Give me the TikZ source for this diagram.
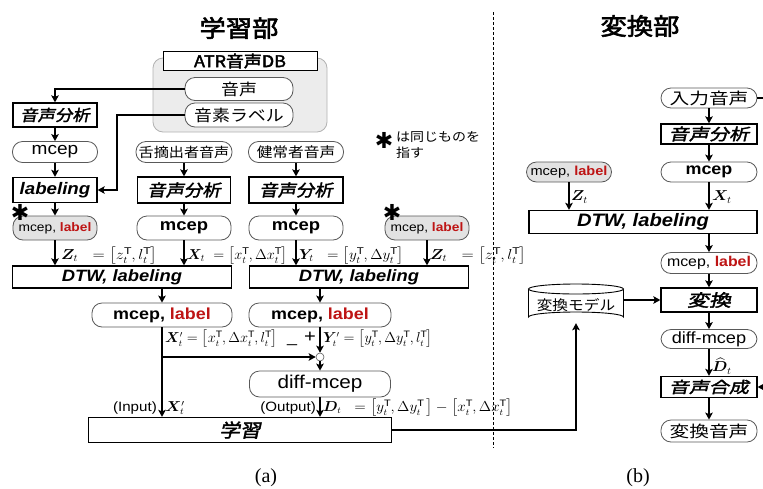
\documentclass[tikz,border=0pt]{standalone}
\usepackage{amsmath}
\usepackage{bm}
\usepackage{graphicx}
\usepackage{fontspec}
\setmainfont{Liberation Sans}[FakeStretch=1.12]
\newfontfamily\jp{Noto Sans CJK JP}[FakeStretch=1.12]
\newfontfamily\jpb{Noto Sans CJK JP}[FakeBold=2.5,FakeStretch=1.12]
\newfontfamily\jpbi{Noto Sans CJK JP}[FakeBold=2,FakeSlant=0.2,FakeStretch=1.12]
\newfontfamily\dvs{DejaVu Sans}
\newfontfamily\serf{Liberation Serif}
\usetikzlibrary{arrows.meta}
\definecolor{lblred}{RGB}{190,20,20}
\definecolor{pillgray}{RGB}{226,226,226}
\newcommand\Tp{^{\mathrm{T}}}
\newcommand\fs[1]{\fontsize{#1}{#1}\selectfont}
\newcommand\sx[2]{\scalebox{#1}[1]{#2}}
\newcommand\mth[2][1.1]{\scalebox{#1}[1]{$#2$}}
\begin{document}
\begin{tikzpicture}[x=1pt,y=-1pt,
  box/.style={draw=black, line width=1.3pt, fill=white, inner sep=0pt, font=\fs{15}\bfseries\itshape},
  pill/.style={draw=gray!70!black, line width=0.8pt, fill=white, rounded corners=10pt, inner sep=0pt, font=\fs{15}},
  gpill/.style={pill, fill=pillgray, font=\fs{12.3}},
  arr/.style={line width=2pt, -{Stealth[length=7pt,width=7.5pt,inset=1.5pt]}},
  lbl/.style={font=\fs{14}, inner sep=0pt, anchor=west},
  lbls/.style={font=\fs{13.3}, inner sep=0pt, anchor=west},
  ast/.style={font=\dvs\fs{22}, inner sep=0pt}]
\clip (0,0) rectangle (763,488);
\useasboundingbox (0,0) rectangle (763,488);

% titles and divider
\node[font=\jpb\fs{23.5}] (t1) at (239,28) {学習部};
\node[font=\jpb\fs{23.5}] (t2) at (640,26) {変換部};
\coordinate (dv1) at (493,12);
\coordinate (dv2) at (493,448);
\draw[line width=0.8pt, dash pattern=on 3pt off 2pt] (dv1) -- (dv2);

% database
\node[draw=gray!60, fill=gray!15, rounded corners=10pt, line width=0.8pt, minimum width=174, minimum height=74, inner sep=0pt] (db) at (240,95) {};
\node[draw, line width=0.8pt, fill=white, minimum width=154, minimum height=19, inner sep=0pt, font=\jpb\fs{16}] (atr) at (240,61) {ATR音声DB};
\node[pill, minimum width=108, minimum height=23, font=\jp\fs{16}] (onsei) at (239,89) {音声};
\node[pill, minimum width=108, minimum height=24, font=\jp\fs{16}] (onsolabel) at (239,115) {音素ラベル};

% left column
\node[box, minimum width=84, minimum height=24, font=\jpbi\fs{15.5}] (ana1) at (55,115) {音声分析};
\node[pill, minimum width=85, minimum height=21, font=\fs{17}] (mcep1) at (55,152) {mcep};
\node[box, minimum width=84, minimum height=25, font=\fs{16.7}\bfseries\itshape] (lab1) at (55,190) {labeling};
\node[gpill, minimum width=84, minimum height=24] (ml1) at (55,228) {mcep, \textbf{\color{lblred}label}};
\node[ast] (as1) at (20,212) {✱};

% middle columns
\node[pill, minimum width=96, minimum height=21, font=\jp\fs{13.5}] (spk1) at (184,152) {舌摘出者音声};
\node[pill, minimum width=95, minimum height=21, font=\jp\fs{14}] (spk2) at (296,152) {健常者音声};
\node[box, minimum width=93, minimum height=26, font=\jpbi\fs{16.4}] (ana2) at (184,190) {音声分析};
\node[box, minimum width=94, minimum height=26, font=\jpbi\fs{16.4}] (ana3) at (296,190) {音声分析};
\node[pill, minimum width=94, minimum height=24, font=\fs{16.5}\bfseries] (mcep2) at (184,228) {mcep};
\node[pill, minimum width=94, minimum height=24, font=\fs{16.5}\bfseries] (mcep3) at (296,228) {mcep};
\node[gpill, minimum width=84, minimum height=24] (ml2) at (427,228) {mcep, \textbf{\color{lblred}label}};
\node[ast] (as2) at (392,212) {✱};
\node[ast] (as0) at (384,140) {✱};
\node[anchor=west, font=\jp\fs{12.5}, align=left, inner sep=0pt] (leg) at (396,145) {は同じものを\\[3.5pt]指す};

\node[box, minimum width=219, minimum height=22, font=\fs{16.4}\bfseries\itshape] (dtw1) at (122,277) {DTW, labeling};
\node[box, minimum width=219, minimum height=22, font=\fs{16.4}\bfseries\itshape] (dtw2) at (359,277) {DTW, labeling};
\node[pill, minimum width=140, minimum height=24, font=\fs{16}\bfseries] (ml3) at (162,315) {mcep, {\color{lblred}label}};
\node[pill, minimum width=142, minimum height=24, font=\fs{16}\bfseries] (ml4) at (320,315) {mcep, {\color{lblred}label}};
\node[circle, draw=gray!70!black, fill=white, line width=0.6pt, minimum size=8, inner sep=0pt] (jn) at (320,357) {};
\node[pill, minimum width=141, minimum height=26, font=\fs{18.5}] (diff1) at (320,384) {diff-mcep};
\node[box, minimum width=303, minimum height=25, font=\jpbi\fs{18.5}] (learn) at (240,430) {学習};

% right part
\node[pill, minimum width=96, minimum height=20, font=\jp\fs{16}] (in) at (709,98) {\sx{1.1}{入力音声}};
\node[box, minimum width=96, minimum height=20, font=\jpbi\fs{16}] (ana4) at (709,134) {\sx{1.12}{音声分析}};
\node[pill, minimum width=96, minimum height=20, font=\fs{16}\bfseries] (mcep4) at (709,172) {mcep};
\node[gpill, minimum width=85, minimum height=20, font=\fs{13}] (ml5) at (569,172) {mcep, \textbf{\color{lblred}label}};
\node[box, minimum width=228, minimum height=23, font=\fs{18}\bfseries\itshape] (dtw3) at (643,222) {DTW, labeling};
\node[pill, minimum width=96, minimum height=21, font=\fs{14.2}] (ml6) at (709,263) {mcep, \textbf{\color{lblred}label}};
\node[box, minimum width=96, minimum height=24, font=\jpbi\fs{17}] (conv) at (709,300) {\sx{1.15}{変換}};
\node[pill, minimum width=96, minimum height=19, font=\fs{16.2}] (diff2) at (709,339) {diff-mcep};
\node[box, minimum width=96, minimum height=21, font=\jpbi\fs{15.5}] (syn) at (709,387) {\sx{1.15}{音声合成}};
\node[pill, minimum width=96, minimum height=22, font=\jp\fs{16}] (out) at (709,431) {\sx{1.1}{変換音声}};

% model cylinder
\node[minimum width=95, minimum height=40, inner sep=0pt] (model) at (576,303) {};
\draw[line width=0.9pt, fill=white] (528.5,289) -- (528.5,317) arc[start angle=180, end angle=360, x radius=47.5, y radius=5] -- (623.5,289);
\draw[line width=0.9pt, fill=white] (576,289) ellipse[x radius=47.5, y radius=5];
\node[font=\jp\fs{14}, inner sep=0pt] (modeltext) at (576,305) {変換モデル};

% arrows left
\draw[arr] (onsei.west) -| (ana1.north);
\coordinate (c1) at (117,115);
\draw[arr] (onsolabel.west) -- (c1) |- (lab1.east);
\draw[arr] (ana1) -- (mcep1);
\draw[arr] (mcep1) -- (lab1);
\draw[arr] (lab1) -- (ml1);
\draw[arr] (ml1.south) -- (ml1.south |- dtw1.north);
\draw[arr] (spk1) -- (ana2);
\draw[arr] (ana2) -- (mcep2);
\draw[arr] (mcep2.south) -- (mcep2.south |- dtw1.north);
\draw[arr] (spk2) -- (ana3);
\draw[arr] (ana3) -- (mcep3);
\draw[arr] (mcep3.south) -- (mcep3.south |- dtw2.north);
\draw[arr] (ml2.south) -- (ml2.south |- dtw2.north);
\draw[arr] (ml3.north |- dtw1.south) -- (ml3.north);
\draw[arr] (ml4.north |- dtw2.south) -- (ml4.north);
\draw[arr] (ml3.south) -- (ml3.south |- learn.north);
\coordinate (br) at (ml3.south |- jn);
\draw[arr] (br) -- (jn.west);
\draw[arr] (ml4.south) -- (jn.north);
\draw[arr] (jn.south) -- (diff1.north);
\draw[arr] (diff1.south) -- (diff1.south |- learn.north);
\draw[arr] (learn.east) -| (model.south);
\draw[arr] (model.east |- conv.west) -- (conv.west);

% arrows right
\draw[arr] (in) -- (ana4);
\draw[arr] (ana4) -- (mcep4);
\draw[arr] (mcep4.south) -- (mcep4.south |- dtw3.north);
\draw[arr] (ml5.south) -- (ml5.south |- dtw3.north);
\draw[arr] (ml6.north |- dtw3.south) -- (ml6.north);
\draw[arr] (ml6) -- (conv);
\draw[arr] (conv) -- (diff2);
\draw[arr] (diff2) -- (syn);
\draw[arr] (syn) -- (out);
\coordinate (re) at (770,98);
\draw[arr] (in.east) -- (re) |- (syn.east);

% math labels
\node[lbl] (lz1) at (61,256) {\mth[1.12]{\bm{Z}_t\ \ =\left[z_t\Tp, l_t\Tp\right]}};
\node[lbl] (lx1) at (187,256) {\mth[1.0]{\bm{X}_t\ =\left[x_t\Tp, \Delta x_t\Tp\right]}};
\node[lbl] (ly1) at (299,256) {\mth[1.05]{\bm{Y}_t\ \ =\left[y_t\Tp, \Delta y_t\Tp\right]}};
\node[lbl] (lz2) at (430,256) {\mth[1.12]{\bm{Z}_t\ \ =\left[z_t\Tp, l_t\Tp\right]}};
\node[lbls] (lx2) at (165,339) {\mth[1.0]{\bm{X}'_t = \left[x_t\Tp, \Delta x_t\Tp, l_t\Tp\right]}};
\node[font=\fs{16}, inner sep=0pt] (minus) at (292,344) {\_};
\node[font=\fs{18}, inner sep=0pt] (plus) at (310,337) {+};
\node[lbls] (ly2) at (323,339) {\mth[1.0]{\bm{Y}'_t = \left[y_t\Tp, \Delta y_t\Tp, l_t\Tp\right]}};
\node[font=\fs{13.5}, inner sep=0pt, anchor=east] (inp) at (157,408) {(Input)};
\node[lbls] (lx3) at (165,408) {\mth{\bm{X}'_t}};
\node[font=\fs{13.5}, inner sep=0pt, anchor=east] (outp) at (316,408) {(Output)};
\node[lbls] (ld) at (323,408) {\mth[1.05]{\bm{D}_t\ \ =\left[y_t\Tp, \Delta y_t\Tp\,\right] - \left[x_t\Tp, \Delta x_t\Tp\right]}};
\node[lbl] (lz3) at (571,197) {\mth{\bm{Z}_t}};
\node[lbl] (lx4) at (712,197) {\mth{\bm{X}_t}};
\node[lbl] (ldh) at (712,366) {\mth{\widehat{\bm{D}}_t}};

\node[font=\serf\fs{20}] (capa) at (266,478) {(a)};
\node[font=\serf\fs{20}] (capb) at (638,478) {(b)};
\end{tikzpicture}
\end{document}
